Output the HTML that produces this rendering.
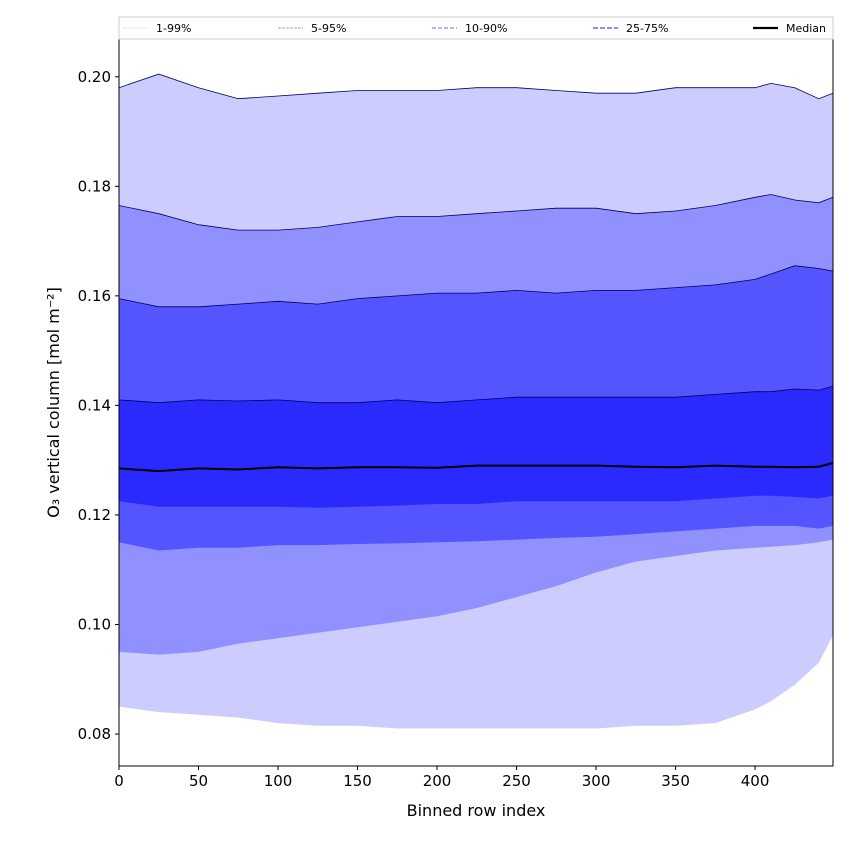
<!DOCTYPE html>
<html><head><meta charset="utf-8"><style>
body{margin:0;background:#fff;font-family:"Liberation Sans","DejaVu Sans",sans-serif;}
</style></head><body>
<svg id="chart" width="850" height="850" xmlns="http://www.w3.org/2000/svg" font-family="DejaVu Sans, Liberation Sans, sans-serif">
<rect width="850" height="850" fill="#fff"/>
<g id="bands"></g>
<g id="axes"></g>
</svg>
<script>
const xs  = [0,25,50,75,100,125,150,175,200,225,250,275,300,325,350,375,400,410,425,440,449];
const p99 = [0.198,0.2005,0.198,0.196,0.1965,0.197,0.1975,0.1975,0.1975,0.198,0.198,0.1975,0.197,0.197,0.198,0.198,0.198,0.1988,0.198,0.196,0.197];
const p95 = [0.1765,0.175,0.173,0.172,0.172,0.1725,0.1735,0.1745,0.1745,0.175,0.1755,0.176,0.176,0.175,0.1755,0.1765,0.178,0.1785,0.1775,0.177,0.178];
const p90 = [0.1595,0.158,0.158,0.1585,0.159,0.1585,0.1595,0.160,0.1605,0.1605,0.161,0.1605,0.161,0.161,0.1615,0.162,0.163,0.164,0.1655,0.165,0.1645];
const p75 = [0.141,0.1405,0.141,0.1408,0.141,0.1405,0.1405,0.141,0.1405,0.141,0.1415,0.1415,0.1415,0.1415,0.1415,0.142,0.1425,0.1425,0.143,0.1428,0.1435];
const p50 = [0.1285,0.128,0.1285,0.1283,0.1287,0.1285,0.1287,0.1287,0.1286,0.129,0.129,0.129,0.129,0.1288,0.1287,0.129,0.1288,0.1288,0.1287,0.1288,0.1295];
const p25 = [0.1225,0.1215,0.1215,0.1215,0.1215,0.1213,0.1215,0.1217,0.122,0.122,0.1225,0.1225,0.1225,0.1225,0.1225,0.123,0.1235,0.1235,0.1233,0.123,0.1235];
const p10 = [0.115,0.1135,0.114,0.114,0.1145,0.1145,0.1147,0.1148,0.115,0.1152,0.1155,0.1158,0.116,0.1165,0.117,0.1175,0.118,0.118,0.118,0.1175,0.118];
const p5  = [0.095,0.0945,0.095,0.0965,0.0975,0.0985,0.0995,0.1005,0.1015,0.103,0.105,0.107,0.1095,0.1115,0.1125,0.1135,0.114,0.1142,0.1145,0.115,0.1155];
const p1  = [0.085,0.084,0.0835,0.083,0.082,0.0815,0.0815,0.081,0.081,0.081,0.081,0.081,0.081,0.0815,0.0815,0.082,0.0845,0.086,0.089,0.093,0.098];
const xTicks = [0,50,100,150,200,250,300,350,400];
const yTicks = [0.08,0.10,0.12,0.14,0.16,0.18,0.20];

const L=119,R=833,T=39,B=766, X0=0,X1=449, Y0=0.07416,Y1=0.2069;
const sx=v=>L+(v-X0)/(X1-X0)*(R-L);
const sy=v=>B-(v-Y0)/(Y1-Y0)*(B-T);
const NS="http://www.w3.org/2000/svg";
function mk(tag,attrs,parent){const e=document.createElementNS(NS,tag);for(const k in attrs)e.setAttribute(k,attrs[k]);parent.appendChild(e);return e;}
const bands=document.getElementById('bands'), axes=document.getElementById('axes');
function line(arr){return xs.map((x,i)=>(i?'L':'M')+sx(x).toFixed(1)+','+sy(arr[i]).toFixed(1)).join('');}
function band(top,bot,color,name){
  const d=line(top)+xs.slice().reverse().map((x,j)=>{const i=xs.length-1-j;return 'L'+sx(x).toFixed(1)+','+sy(bot[i]).toFixed(1);}).join('')+'Z';
  const p=mk('path',{d:d,fill:color},bands);
  
  
}
band(p99,p1,'#ccccff','band-1-99');
band(p95,p5,'#9090ff','band-5-95');
band(p90,p10,'#5555ff','band-10-90');
band(p75,p25,'#2a2aff','band-25-75');
[[p99,'p99-line'],[p95,'p95-line'],[p90,'p90-line'],[p75,'p75-line']].forEach(([a,n])=>{
  const p=mk('path',{d:line(a),fill:'none',stroke:'#000060','stroke-width':0.8},bands);
  
  
});
const med=mk('path',{d:line(p50),fill:'none',stroke:'#000','stroke-width':2},bands);



const fr=mk('rect',{x:L,y:T,width:R-L,height:B-T,fill:'none',stroke:'#000','stroke-width':1},axes);


xTicks.forEach(t=>{
  mk('line',{x1:sx(t),x2:sx(t),y1:B,y2:B+4,stroke:'#000'},axes);
  const tx=mk('text',{x:sx(t),y:B+20,'text-anchor':'middle','font-size':15},axes);
  tx.textContent=t;
  
  
});
yTicks.forEach(t=>{
  mk('line',{x1:L-4,x2:L,y1:sy(t),y2:sy(t),stroke:'#000'},axes);
  const tx=mk('text',{x:L-8,y:sy(t)+5,'text-anchor':'end','font-size':15},axes);
  tx.textContent=t.toFixed(2);
  
  
});
const xt=mk('text',{x:(L+R)/2,y:816,'text-anchor':'middle','font-size':16},axes);
xt.textContent='Binned row index';


const yt=mk('text',{x:0,y:0,'text-anchor':'middle','font-size':16,transform:'translate(59,'+((T+B)/2)+') rotate(-90)'},axes);
yt.textContent='O₃ vertical column [mol m⁻²]';



// legend
const lg=mk('g',{},axes);


mk('rect',{x:L,y:17,width:R-L,height:22,fill:'#fff',stroke:'#ccc','stroke-width':1},lg);
const entries=[['1-99%','#ddddff',1,'3,1',123],['5-95%','#a0a0dd',1,'3,1',278],['10-90%','#8888ee',1.3,'4,2',432],['25-75%','#6666ff',1.6,'5,2',593],['Median','#000',2.2,'',753]];
entries.forEach(([lab,c,w,da,x])=>{
  const g=mk('g',{},lg);
  
  
  mk('line',{x1:x,x2:x+25,y1:28,y2:28,stroke:c,'stroke-width':w,'stroke-dasharray':da},g);
  const t=mk('text',{x:x+33,y:32,'font-size':11},g);
  t.textContent=lab;
});
</script>
</body></html>
